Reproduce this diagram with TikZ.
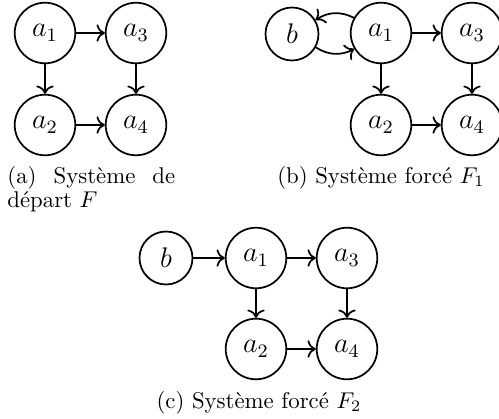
\documentclass[tikz,border=0pt]{standalone}
\usepackage{graphicx}
\usetikzlibrary{arrows.meta}
\newcommand\ndtxt[1]{\scalebox{1.1}{$#1$}}
\begin{document}
\begin{tikzpicture}[x=0.4651pt,y=-0.4651pt,
  st/.style={circle,draw,line width=0.8pt,inner sep=5.0pt,font=\large},
  ed/.style={-{To[scale=1.15]},line width=0.8pt},
  captxt/.style={font=\fontsize{10}{10.6}\selectfont,inner sep=0pt,scale=1.06}]
\useasboundingbox (0,0) rectangle (499,419);
% (a)
\node[st] (aa1) at (45,33) {\ndtxt{a_1}};
\node[st] (aa3) at (136,33) {\ndtxt{a_3}};
\node[st] (aa2) at (45,125) {\ndtxt{a_2}};
\node[st] (aa4) at (136,125) {\ndtxt{a_4}};
\draw[ed] (aa1) -- (aa3);
\draw[ed] (aa1) -- (aa2);
\draw[ed] (aa3) -- (aa4);
\draw[ed] (aa2) -- (aa4);
\node[captxt,anchor=north west,text width=73.6pt,align=left] (capa) at (7,166)
  {(a)\hfill Système\hfill de\\départ $F$};
% (b)
\node[st] (bb) at (292,34) {\ndtxt{b}};
\node[st] (ba1) at (381,33) {\ndtxt{a_1}};
\node[st] (ba3) at (472,33) {\ndtxt{a_3}};
\node[st] (ba2) at (381,125) {\ndtxt{a_2}};
\node[st] (ba4) at (472,125) {\ndtxt{a_4}};
\draw[ed] (ba1) to[bend right=30] (bb);
\draw[ed] (bb) to[bend right=30] (ba1);
\draw[ed] (ba1) -- (ba3);
\draw[ed] (ba1) -- (ba2);
\draw[ed] (ba3) -- (ba4);
\draw[ed] (ba2) -- (ba4);
\node[captxt,anchor=base] (capb) at (381,183) {(b) Système forcé $F_1$};
% (c)
\node[st] (cb) at (166,258) {\ndtxt{b}};
\node[st] (ca1) at (256,258) {\ndtxt{a_1}};
\node[st] (ca3) at (347,258) {\ndtxt{a_3}};
\node[st] (ca2) at (256,349) {\ndtxt{a_2}};
\node[st] (ca4) at (347,349) {\ndtxt{a_4}};
\draw[ed] (cb) -- (ca1);
\draw[ed] (ca1) -- (ca3);
\draw[ed] (ca1) -- (ca2);
\draw[ed] (ca3) -- (ca4);
\draw[ed] (ca2) -- (ca4);
\node[captxt,anchor=base] (capc) at (259,408) {(c) Système forcé $F_2$};
\end{tikzpicture}
\end{document}
